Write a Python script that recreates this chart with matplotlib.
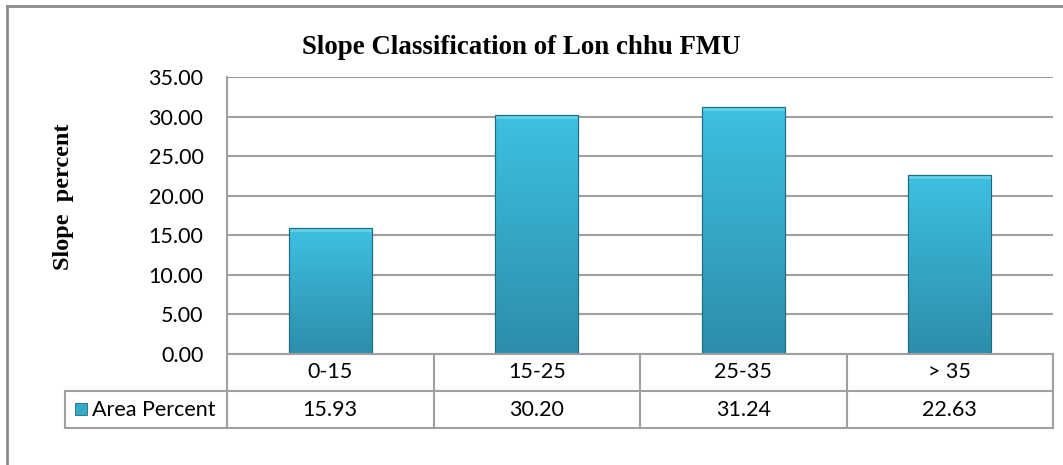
import numpy as np
import matplotlib
matplotlib.use('Agg')
import matplotlib.pyplot as plt
from matplotlib.patches import Rectangle
from matplotlib.lines import Line2D

categories = ['0-15', '15-25', '25-35', '> 35']
area_percent = [15.93, 30.20, 31.24, 22.63]
series_name = 'Area Percent'
title = 'Slope Classification of Lon chhu FMU'
ylabel = 'Slope  percent'
yticks = [0, 5, 10, 15, 20, 25, 30, 35]

grid_color = '#a0a0a0'
top_color = np.array([0x3e, 0xc0, 0xe2]) / 255
bottom_color = np.array([0x2c, 0x8e, 0xaa]) / 255
edge_color = '#1f6a80'
num_font = 'Lato'
serif_font = 'Liberation Serif'

W, H = 1063, 465
fig = plt.figure(figsize=(W / 100, H / 100), dpi=100)
ax = fig.add_axes([227 / W, 1 - 354 / H, (1053 - 227) / W, (354 - 77) / H])

x = np.arange(len(categories))
bars = ax.bar(x, area_percent, width=0.4, color=top_color, edgecolor=edge_color, linewidth=0.8, zorder=3)

# vertical gradient inside each bar
grad = np.linspace(0, 1, 100)[:, None]
grad_img = top_color[None, None, :] * (1 - grad[..., None]) + bottom_color[None, None, :] * grad[..., None]
grad_img = np.repeat(grad_img, 2, axis=1)
for bar in bars:
    x0 = bar.get_x()
    x1 = x0 + bar.get_width()
    h = bar.get_height()
    im = ax.imshow(grad_img, extent=[x0, x1, 0, h], aspect='auto', origin='upper', zorder=3.5)
    im.set_clip_path(bar)
    # faint bevel strip at the top
    ax.add_patch(Rectangle((x0, h - 0.5), x1 - x0, 0.5, facecolor='#8fe2f5', edgecolor='none',
                           alpha=0.45, zorder=3.6))
    ax.add_patch(Rectangle((x0, 0), x1 - x0, h, facecolor='none', edgecolor=edge_color,
                           linewidth=0.8, zorder=3.7))

ax.set_xlim(-0.5, len(categories) - 0.5)
ax.set_ylim(0, 35)
ax.set_yticks(yticks)
ax.set_yticklabels([f'{v:.2f}' for v in yticks], fontsize=15.5, fontfamily=num_font)
ax.set_xticks([])
ax.tick_params(axis='y', length=0, pad=17)
ax.yaxis.grid(True, color=grid_color, linewidth=1.5, zorder=0)
ax.set_axisbelow(True)
for side in ['top', 'right', 'bottom']:
    ax.spines[side].set_visible(False)
ax.spines['left'].set_color(grid_color)
ax.spines['left'].set_linewidth(1.5)

# data table under the plot
trans = ax.get_xaxis_transform()
row_h = 37 / (354 - 77)
rows_y = [0, -row_h, -2 * row_h]
legend_left = (65 - 227) / (1053 - 227)
line_kw = dict(color=grid_color, linewidth=1.5, clip_on=False, zorder=5)
ax.add_line(Line2D([-0.5, len(categories) - 0.5], [0, 0], transform=trans, **line_kw))
for yy in rows_y[1:]:
    ax.add_line(Line2D([legend_left, 1], [yy, yy], transform=ax.transAxes, **line_kw))
for i in range(len(categories) + 1):
    ax.add_line(Line2D([i - 0.5, i - 0.5], [0, rows_y[-1]], transform=trans, **line_kw))
ax.add_line(Line2D([legend_left, legend_left], [rows_y[1], rows_y[2]], transform=ax.transAxes, **line_kw))

for i, (cat, val) in enumerate(zip(categories, area_percent)):
    ax.text(i, -row_h / 2, cat, transform=trans, ha='center', va='center',
            fontsize=15.5, fontfamily=num_font)
    ax.text(i, -1.5 * row_h, f'{val:.2f}', transform=trans, ha='center', va='center',
            fontsize=15.5, fontfamily=num_font)

# legend key in table
key_x = (75 - 227) / (1053 - 227)
key_w = 12 / (1053 - 227)
key_h = 12 / (354 - 77)
ax.add_patch(Rectangle((key_x, -1.5 * row_h - key_h / 2), key_w, key_h, transform=ax.transAxes,
                       facecolor='#35a8c8', edgecolor=edge_color, linewidth=0.6, clip_on=False))
ax.text(key_x + key_w + 5 / (1053 - 227), -1.5 * row_h, series_name, transform=ax.transAxes,
        ha='left', va='center', fontsize=15.5, fontfamily=num_font)

# title and y label
fig.text(521 / W, 1 - 47 / H, title, ha='center', va='center', fontsize=19.4,
         fontweight='bold', fontfamily=serif_font)
fig.text(63 / W, 1 - 197 / H, ylabel, ha='center', va='center', rotation=90, fontsize=17.5,
         fontweight='bold', fontfamily=serif_font)

# chart outer border (clipped at right and bottom)
fig.add_artist(Line2D([7 / W, 7 / W], [0, 1 - 6 / H], color='#8c8c8c', linewidth=2, transform=fig.transFigure))
fig.add_artist(Line2D([7 / W, 1], [1 - 6 / H, 1 - 6 / H], color='#8c8c8c', linewidth=2, transform=fig.transFigure))

fig.savefig('out.png', dpi=100)
